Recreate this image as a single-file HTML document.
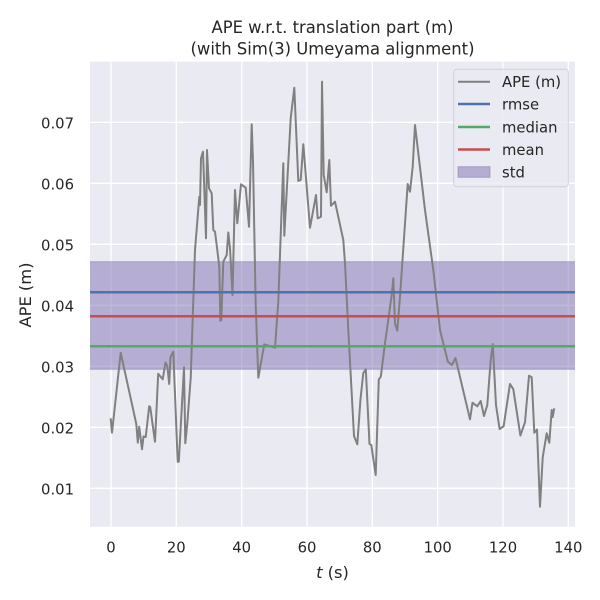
<!DOCTYPE html>
<html><head><meta charset="utf-8"><style>
html,body{margin:0;padding:0;background:#fff;}
svg{display:block;}
text{font-family:"DejaVu Sans","Liberation Sans",sans-serif;fill:#262626;}
</style></head><body>
<svg width="600" height="600" viewBox="0 0 600 600" xmlns="http://www.w3.org/2000/svg">
<rect x="0" y="0" width="600" height="600" fill="#ffffff"/>
<rect x="90" y="61.7" width="485" height="465" fill="#EAEAF2"/>
<g stroke="#ffffff" stroke-width="1.3">
<line x1="111" y1="61.7" x2="111" y2="526.7"/>
<line x1="176.3" y1="61.7" x2="176.3" y2="526.7"/>
<line x1="241.7" y1="61.7" x2="241.7" y2="526.7"/>
<line x1="307" y1="61.7" x2="307" y2="526.7"/>
<line x1="372.3" y1="61.7" x2="372.3" y2="526.7"/>
<line x1="437.7" y1="61.7" x2="437.7" y2="526.7"/>
<line x1="503" y1="61.7" x2="503" y2="526.7"/>
<line x1="568.3" y1="61.7" x2="568.3" y2="526.7"/>
<line x1="90" y1="122.3" x2="575" y2="122.3"/>
<line x1="90" y1="183.3" x2="575" y2="183.3"/>
<line x1="90" y1="244.3" x2="575" y2="244.3"/>
<line x1="90" y1="305.3" x2="575" y2="305.3"/>
<line x1="90" y1="366.3" x2="575" y2="366.3"/>
<line x1="90" y1="427.3" x2="575" y2="427.3"/>
<line x1="90" y1="488.3" x2="575" y2="488.3"/>
</g>
<rect x="90" y="261.7" width="485" height="107.6" fill="#8172B2" fill-opacity="0.5"/>
<line x1="90" y1="261.7" x2="575" y2="261.7" stroke="#8172B2" stroke-opacity="0.5" stroke-width="1"/>
<line x1="90" y1="369.3" x2="575" y2="369.3" stroke="#8172B2" stroke-opacity="0.5" stroke-width="1"/>
<polyline fill="none" stroke="#808080" stroke-width="2" stroke-linejoin="round" points="110.7,418.3 112,432.7 120.7,352.7 136.3,424 137.8,442.7 139.2,426.7 142,449.3 143.5,436.5 145.7,437 149.2,406.3 150.2,407 155,441.7 158.2,373.7 162.7,379.3 165.5,362.5 167.3,366 169.2,384 170.5,357 173.3,351.7 177.7,461.7 178.8,461.7 184,367.3 185.3,443.3 187.3,423.3 190.7,378 195,250 199.3,196.7 200,205 201,158.3 203,151.7 206,238.3 207,150 209,188.3 211.7,193.3 213.3,230 215,231.7 217.3,250 219.3,266.7 220.3,320.7 221.3,320 223.3,261.7 226.7,255 228.3,232.5 230,248.3 232.5,295 235,190 237.3,223.3 241,184.3 245.7,187.7 249,226.7 251.7,124.3 253,161.7 255.7,305 258.3,377.7 264.3,344.3 275,347.7 278.3,301.7 283.3,163.3 284.3,235.7 290.7,118.3 294.3,87.7 298.3,181 300.7,180 303.3,144.3 310,227.7 316,195 317.7,218.3 321,216.7 322,81.7 323.7,175 326.7,192.3 329.3,160 331,205.7 335,201.7 343.3,240 345,263.3 348.3,330 354,436 357.3,444.3 360.5,399 363.3,373 365.8,369.3 369.5,444 371.3,445 375.7,475 378.8,379.3 380.8,376.7 385,343.3 391.7,295 393.3,278.3 395,323.3 397.3,330.7 400,296.7 407.7,184 410,191.7 412.7,166.7 415,125 425,210 433.3,270 440,330 443.3,343.3 447.9,361.7 451.9,365 455.5,358 470,419.3 472.5,402.7 477.3,406.3 480.7,401 484,416 487.3,405 490.7,360 492.8,344 496,405 499.6,429 503.6,426.3 510,384 513.3,389.2 520.4,435.5 525,422.2 529,375.8 531.7,377.3 534.3,432.7 537,429.6 540,506.7 542.7,457.5 546.7,433.3 549.3,442.7 551.7,410 552.7,417 554.2,408.3"/>
<line x1="90" y1="292.3" x2="575" y2="292.3" stroke="#4C72B0" stroke-width="2.5"/>
<line x1="90" y1="346.3" x2="575" y2="346.3" stroke="#55A868" stroke-width="2.5"/>
<line x1="90" y1="316.3" x2="575" y2="316.3" stroke="#C44E52" stroke-width="2.5"/>
<g font-size="14.8" text-anchor="end">
<text x="74" y="128.3">0.07</text>
<text x="74" y="189.3">0.06</text>
<text x="74" y="250.3">0.05</text>
<text x="74" y="311.3">0.04</text>
<text x="74" y="372.3">0.03</text>
<text x="74" y="433.3">0.02</text>
<text x="74" y="494.3">0.01</text>
</g>
<g font-size="14.8" text-anchor="middle">
<text x="111" y="552.7">0</text>
<text x="176.3" y="552.7">20</text>
<text x="241.7" y="552.7">40</text>
<text x="307" y="552.7">60</text>
<text x="372.3" y="552.7">80</text>
<text x="437.7" y="552.7">100</text>
<text x="503" y="552.7">120</text>
<text x="568.3" y="552.7">140</text>
</g>
<text x="332.5" y="578" font-size="16.3" text-anchor="middle"><tspan font-style="italic">t</tspan> (s)</text>
<text transform="translate(31,295) rotate(-90)" font-size="16.3" text-anchor="middle">APE (m)</text>
<text x="332.5" y="33" font-size="16.4" text-anchor="middle">APE w.r.t. translation part (m)</text>
<text x="332.5" y="54.3" font-size="16.4" text-anchor="middle">(with Sim(3) Umeyama alignment)</text>
<rect x="453.7" y="69.3" width="114.6" height="117.4" rx="3" ry="3" fill="#EAEAF2" fill-opacity="0.8" stroke="#d0d0d6" stroke-width="1"/>
<line x1="458" y1="81.7" x2="490" y2="81.7" stroke="#808080" stroke-width="2"/>
<line x1="458" y1="104" x2="490" y2="104" stroke="#4C72B0" stroke-width="2.5"/>
<line x1="458" y1="127" x2="490" y2="127" stroke="#55A868" stroke-width="2.5"/>
<line x1="458" y1="149.5" x2="490" y2="149.5" stroke="#C44E52" stroke-width="2.5"/>
<rect x="458" y="166.7" width="32" height="10.6" fill="#8172B2" fill-opacity="0.5" stroke="#8172B2" stroke-opacity="0.5" stroke-width="1"/>
<g font-size="14.8">
<text x="502" y="87.2">APE (m)</text>
<text x="502" y="109.5">rmse</text>
<text x="502" y="132.5">median</text>
<text x="502" y="155">mean</text>
<text x="502" y="177.5">std</text>
</g>
</svg>
</body></html>
